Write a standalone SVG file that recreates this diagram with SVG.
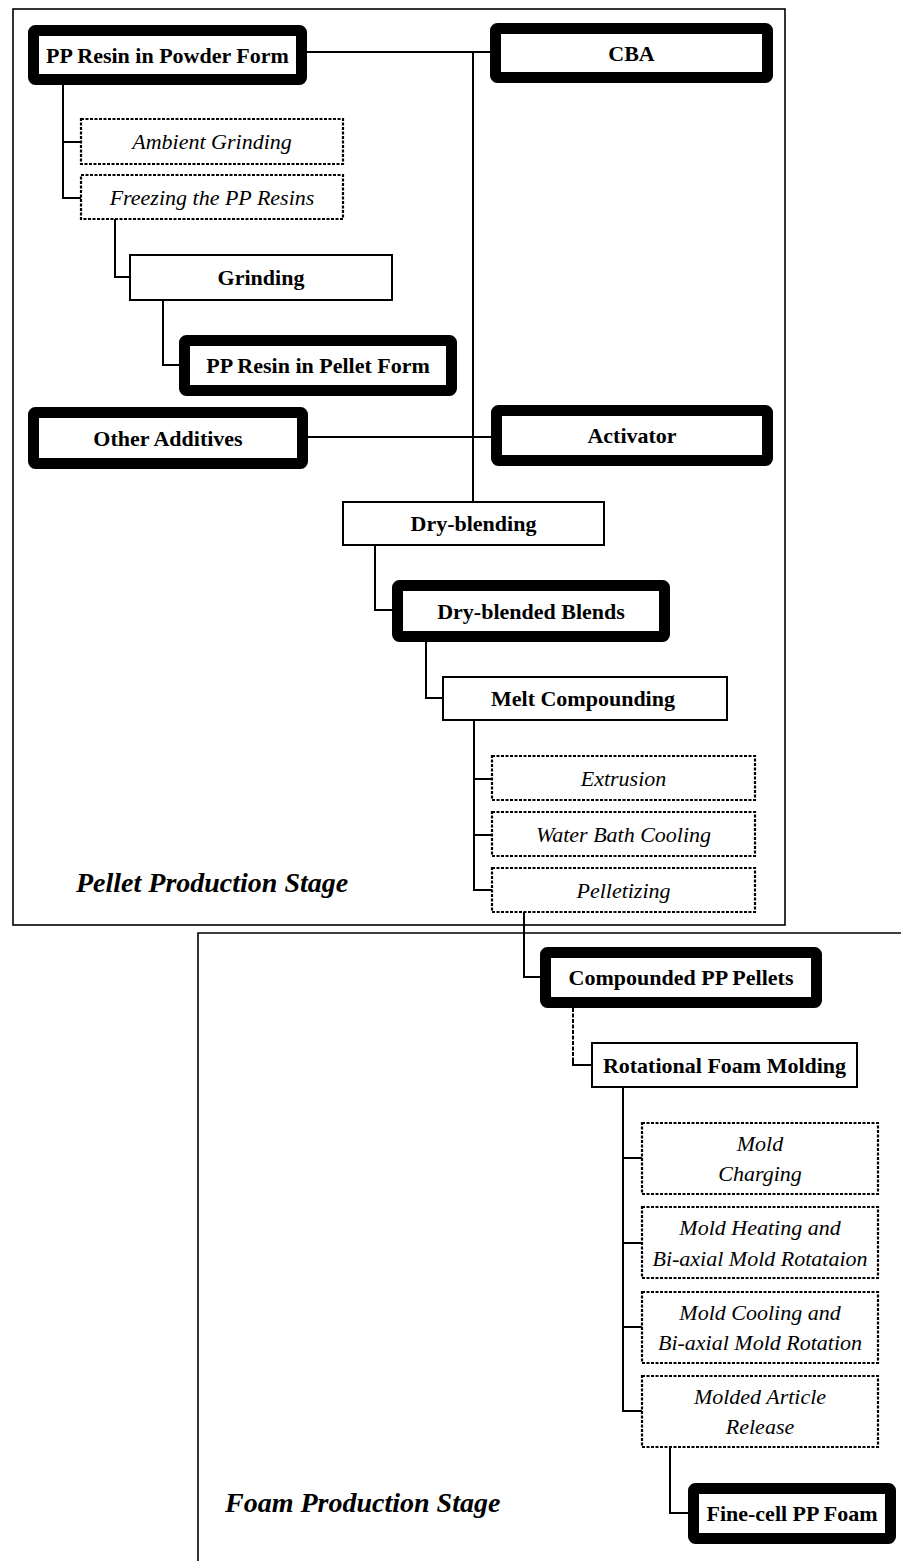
<svg xmlns="http://www.w3.org/2000/svg" width="901" height="1561" viewBox="0 0 901 1561">
  <style>
    .thick { fill: #fff; stroke: #000; stroke-width: 11; }
    .solid { fill: #fff; stroke: #000; stroke-width: 2; }
    .dash  { fill: #fff; stroke: #000; stroke-width: 2.2; stroke-dasharray: 3 1.5; }
    .frame { fill: none; stroke: #000; stroke-width: 1.6; }
    .conn  { fill: none; stroke: #000; stroke-width: 2; }
    .connd { fill: none; stroke: #000; stroke-width: 2; stroke-dasharray: 4 1.5; }
    .b  { font-family: "Liberation Serif", "Times New Roman", serif; font-size: 22px; font-weight: bold; text-anchor: middle; fill: #000; }
    .i  { font-family: "Liberation Serif", "Times New Roman", serif; font-size: 22px; font-style: italic; text-anchor: middle; fill: #000; }
    .stage { font-family: "Liberation Serif", "Times New Roman", serif; font-size: 28px; font-weight: bold; font-style: italic; fill: #000; }
  </style>
  <rect width="901" height="1561" fill="#fff"/>

  <!-- stage frames -->
  <g id="stages">
    <rect class="frame" x="13" y="9" width="772" height="916"/>
    <polyline class="frame" points="198,1561 198,933 901,933"/>
    <text class="stage" x="76" y="892">Pellet Production Stage</text>
    <text class="stage" x="225" y="1512">Foam Production Stage</text>
  </g>

  <!-- connectors -->
  <g id="connectors">
    <polyline class="conn" points="307,52 490,52"/>
    <polyline class="conn" points="473,52 473,502"/>
    <polyline class="conn" points="308,437 491,437"/>
    <polyline class="conn" points="63,85 63,198 81,198"/>
    <polyline class="conn" points="63,142 81,142"/>
    <polyline class="conn" points="115,219 115,277 130,277"/>
    <polyline class="conn" points="163,300 163,365 179,365"/>
    <polyline class="conn" points="375,545 375,610 392,610"/>
    <polyline class="conn" points="426,642 426,698 443,698"/>
    <polyline class="conn" points="474,720 474,890 492,890"/>
    <polyline class="conn" points="474,779 492,779"/>
    <polyline class="conn" points="474,835 492,835"/>
    <polyline class="conn" points="524,912 524,977 540,977"/>
    <polyline class="connd" points="573,1008 573,1060"/>
    <polyline class="conn" points="573,1058 573,1065 592,1065"/>
    <polyline class="conn" points="623,1087 623,1411 642,1411"/>
    <polyline class="conn" points="623,1158 642,1158"/>
    <polyline class="conn" points="623,1243 642,1243"/>
    <polyline class="conn" points="623,1327 642,1327"/>
    <polyline class="conn" points="670,1447 670,1513 688,1513"/>
  </g>

  <!-- pellet production nodes -->
  <g id="pp-powder">
    <rect class="thick" x="33.5" y="30.5" width="268" height="49" rx="2"/>
    <text class="b" x="167.5" y="63">PP Resin in Powder Form</text>
  </g>
  <g id="cba">
    <rect class="thick" x="495.5" y="28.5" width="272" height="49" rx="2"/>
    <text class="b" x="631.5" y="61">CBA</text>
  </g>
  <g id="ambient-grinding">
    <rect class="dash" x="81" y="119" width="262" height="45"/>
    <text class="i" x="212" y="149">Ambient Grinding</text>
  </g>
  <g id="freezing">
    <rect class="dash" x="81" y="175" width="262" height="44"/>
    <text class="i" x="212" y="204.5">Freezing the PP Resins</text>
  </g>
  <g id="grinding">
    <rect class="solid" x="130" y="255" width="262" height="45"/>
    <text class="b" x="261" y="285">Grinding</text>
  </g>
  <g id="pp-pellet">
    <rect class="thick" x="184.5" y="340.5" width="267" height="50" rx="2"/>
    <text class="b" x="318" y="373">PP Resin in Pellet Form</text>
  </g>
  <g id="other-additives">
    <rect class="thick" x="33.5" y="412.5" width="269" height="51" rx="2"/>
    <text class="b" x="168" y="445.5">Other Additives</text>
  </g>
  <g id="activator">
    <rect class="thick" x="496.5" y="410.5" width="271" height="50" rx="2"/>
    <text class="b" x="632" y="443">Activator</text>
  </g>
  <g id="dry-blending">
    <rect class="solid" x="343" y="502" width="261" height="43"/>
    <text class="b" x="473.5" y="531">Dry-blending</text>
  </g>
  <g id="dry-blended-blends">
    <rect class="thick" x="397.5" y="585.5" width="267" height="51" rx="2"/>
    <text class="b" x="531" y="618.5">Dry-blended Blends</text>
  </g>
  <g id="melt-compounding">
    <rect class="solid" x="443" y="677" width="284" height="43"/>
    <text class="b" x="583" y="706">Melt Compounding</text>
  </g>
  <g id="extrusion">
    <rect class="dash" x="492" y="756" width="263" height="44"/>
    <text class="i" x="623.5" y="785.5">Extrusion</text>
  </g>
  <g id="water-bath">
    <rect class="dash" x="492" y="812" width="263" height="44"/>
    <text class="i" x="623.5" y="841.5">Water Bath Cooling</text>
  </g>
  <g id="pelletizing">
    <rect class="dash" x="492" y="868" width="263" height="44"/>
    <text class="i" x="623.5" y="897.5">Pelletizing</text>
  </g>

  <!-- foam production nodes -->
  <g id="compounded-pellets">
    <rect class="thick" x="545.5" y="952.5" width="271" height="50" rx="2"/>
    <text class="b" x="681" y="985">Compounded PP Pellets</text>
  </g>
  <g id="rotational-molding">
    <rect class="solid" x="592" y="1043" width="265" height="44"/>
    <text class="b" x="724.5" y="1072.5">Rotational Foam Molding</text>
  </g>
  <g id="mold-charging">
    <rect class="dash" x="642" y="1123" width="236" height="71"/>
    <text class="i" x="760" y="1151">Mold</text>
    <text class="i" x="760" y="1181">Charging</text>
  </g>
  <g id="mold-heating">
    <rect class="dash" x="642" y="1207" width="236" height="71"/>
    <text class="i" x="760" y="1235">Mold Heating and</text>
    <text class="i" x="760" y="1266">Bi-axial Mold Rotataion</text>
  </g>
  <g id="mold-cooling">
    <rect class="dash" x="642" y="1292" width="236" height="71"/>
    <text class="i" x="760" y="1320">Mold Cooling and</text>
    <text class="i" x="760" y="1350">Bi-axial Mold Rotation</text>
  </g>
  <g id="article-release">
    <rect class="dash" x="642" y="1376" width="236" height="71"/>
    <text class="i" x="760" y="1404">Molded Article</text>
    <text class="i" x="760" y="1434">Release</text>
  </g>
  <g id="fine-cell-foam">
    <rect class="thick" x="693.5" y="1488.5" width="197" height="50" rx="2"/>
    <text class="b" x="792" y="1521">Fine-cell PP Foam</text>
  </g>
</svg>
